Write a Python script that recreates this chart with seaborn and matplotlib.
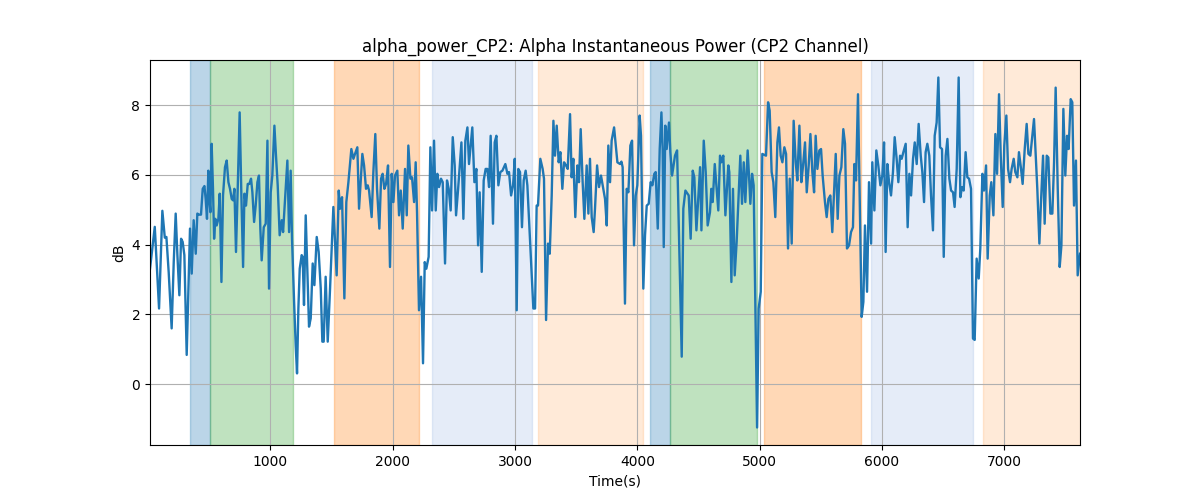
import matplotlib
matplotlib.use("Agg")
import matplotlib.pyplot as plt
import seaborn as sns
import pandas as pd

# ---- data ----
time_s = [
    16, 55, 90, 117, 137, 150, 169, 193, 210, 226, 240, 256, 270, 283, 297,
    316, 330, 343, 357, 373, 390, 403, 417, 433, 447, 461, 471, 482, 493, 501, 510, 520, 531, 540, 550,
    561, 575, 586, 600, 613, 629, 643, 657, 670, 684, 695, 706, 719, 733, 749, 763, 777, 788, 801, 815,
    828, 842, 853, 867, 880, 894, 907, 918, 929, 946, 962, 976, 989, 1003, 1016, 1033, 1046, 1060, 1076, 1093,
    1104, 1120, 1139, 1153, 1166, 1177, 1194, 1207, 1218, 1229, 1240, 1256, 1264,
    1275, 1289, 1316, 1330, 1346, 1360, 1379, 1395, 1412, 1425, 1436, 1452, 1469, 1488, 1515, 1542, 1559, 1570,
    1586, 1605, 1621, 1638, 1662, 1679, 1692, 1711, 1725, 1752, 1766, 1782, 1796, 1807, 1828, 1842, 1858, 1872,
    1891, 1905, 1918, 1932, 1946, 1962, 1978, 1992, 2006, 2019, 2038, 2052, 2066, 2082, 2101, 2115, 2128, 2145,
    2158, 2175, 2188, 2199, 2215, 2232, 2248, 2262, 2275, 2294, 2308, 2322, 2338, 2352, 2365, 2379, 2395, 2409,
    2428, 2444, 2458, 2474, 2491, 2507, 2518, 2534,
    2562, 2578, 2594, 2611, 2624, 2651, 2668, 2684, 2698, 2711, 2728, 2744, 2760, 2774, 2788, 2801, 2820, 2834,
    2848, 2864, 2880, 2897, 2921, 2938, 2951, 2968, 2984, 2998, 3014, 3027, 3041, 3057, 3071, 3087, 3101, 3150,
    3164, 3177, 3188, 3207, 3226, 3237, 3254, 3270, 3284, 3300, 3314, 3327, 3341, 3357, 3371, 3387, 3401, 3417,
    3431, 3450, 3463, 3477, 3493, 3510, 3523, 3537, 3553, 3567, 3586, 3600, 3613, 3627, 3643, 3654, 3671, 3687,
    3703, 3722, 3736, 3750, 3763, 3777, 3790, 3810,
    3837, 3859, 3870, 3880, 3899, 3913, 3927, 3943, 3957, 3973, 3987, 4000, 4019, 4030, 4049, 4063, 4077, 4093,
    4109, 4123, 4139, 4150, 4167, 4183, 4197, 4207, 4216, 4229, 4240, 4259, 4270, 4284, 4308, 4325, 4363, 4376,
    4393, 4420, 4436, 4453, 4466, 4483, 4513, 4524, 4543, 4559, 4575, 4594, 4605, 4616, 4633, 4662, 4676, 4687,
    4703, 4720, 4744, 4752, 4769, 4782, 4796, 4812, 4842, 4856, 4870, 4883, 4902, 4913, 4924, 4938, 4951, 4979,
    4992, 5009, 5022, 5052, 5069,
    5082, 5098, 5112, 5128, 5145, 5158, 5172, 5186, 5202, 5216, 5232, 5246, 5262, 5278, 5295, 5308, 5325, 5341,
    5355, 5371, 5385, 5401, 5415, 5431, 5445, 5458, 5472, 5488, 5502, 5515, 5534, 5548, 5562, 5578, 5594, 5622,
    5638, 5652, 5668, 5684, 5698, 5714, 5731, 5747, 5763, 5774, 5788, 5804, 5834, 5848, 5861, 5878, 5894, 5911,
    5921, 5938, 5954, 5970, 5987, 6003, 6017, 6030, 6044, 6058, 6074, 6090, 6104, 6120, 6134, 6148, 6161, 6175,
    6194, 6210, 6224, 6238, 6254, 6268, 6284, 6300, 6317, 6330, 6344,
    6357, 6371, 6387, 6401, 6417, 6431, 6447, 6461, 6475, 6491, 6505, 6521, 6535, 6551, 6565, 6581, 6594, 6611,
    6627, 6641, 6654, 6668, 6684, 6698, 6712, 6728, 6744, 6758, 6774, 6791, 6804, 6821, 6834, 6851, 6864, 6881,
    6894, 6911, 6927, 6941, 6957, 6971, 6987, 7000, 7017, 7031, 7047, 7060, 7077, 7090, 7107, 7120, 7137, 7150,
    7167, 7183, 7197, 7213, 7227, 7243, 7257, 7270, 7287, 7300, 7317, 7330, 7347, 7360, 7377, 7393, 7407, 7420,
    7437, 7453, 7467, 7483, 7499, 7513, 7526, 7543, 7556, 7570, 7586, 7600, 7619,
]

alpha_db = [
    3.31, 4.51, 2.17, 4.97, 4.20, 4.22, 3.20, 1.60, 3.50, 4.89, 3.70, 2.55, 4.17, 4.08, 3.70,
    0.84, 2.74, 4.46, 3.17, 4.70, 3.74, 4.89, 4.86, 4.86, 5.60, 5.68, 5.31, 4.74, 6.12, 5.31, 4.93, 6.89, 5.60, 4.17, 4.74,
    4.55, 4.74, 5.46, 2.93, 5.41, 6.22, 6.41, 5.79, 5.60, 5.31, 5.27, 5.60, 3.79, 5.60, 7.79, 5.41, 3.36, 5.46, 5.12, 5.74,
    5.74, 5.89, 5.50, 4.65, 5.12, 5.79, 5.98, 4.46, 3.55, 4.50, 4.60, 6.98, 2.74, 5.50, 5.98, 7.41, 6.55, 5.70, 4.27, 4.70,
    4.36, 5.31, 6.41, 4.36, 6.12, 4.17, 2.36, 1.12, 0.31, 2.17, 3.31, 3.70, 3.65,
    2.27, 4.84, 1.65, 1.89, 3.46, 2.84, 4.22, 3.79, 2.74, 1.22, 1.22, 3.08, 1.22, 2.74, 5.08, 3.12, 5.55, 5.03,
    5.36, 2.46, 5.22, 5.79, 6.74, 6.46, 6.60, 6.79, 5.03, 6.60, 6.27, 5.60, 5.70, 5.55, 4.79, 6.08, 7.17, 5.60,
    4.46, 5.89, 6.03, 5.60, 5.74, 6.27, 3.36, 6.03, 5.22, 5.98, 6.12, 4.84, 5.55, 4.46, 6.17, 4.84, 6.84, 5.89,
    5.93, 5.22, 6.36, 4.93, 2.12, 3.08, 0.60, 3.50, 3.31, 3.65, 6.79, 4.98, 6.98, 4.98, 6.03, 5.65, 5.89, 5.79,
    3.46, 5.84, 5.60, 4.98, 7.08, 6.27, 4.84, 5.55,
    6.93, 4.74, 6.98, 7.36, 6.31, 7.36, 5.79, 6.17, 3.98, 5.50, 3.22, 5.84, 6.17, 6.17, 5.65, 7.12, 4.60, 6.93,
    7.12, 5.70, 6.08, 6.12, 6.31, 6.03, 6.08, 5.41, 5.70, 6.46, 2.12, 6.17, 6.08, 4.50, 5.84, 6.12, 5.70, 2.17,
    2.17, 5.12, 5.12, 6.46, 6.17, 5.89, 1.84, 4.03, 3.74, 5.41, 7.55, 6.55, 7.41, 6.36, 6.65, 5.60, 6.36, 6.27,
    6.17, 7.74, 5.93, 6.46, 4.79, 6.27, 5.79, 7.31, 5.79, 4.74, 6.27, 4.89, 6.46, 4.79, 4.36, 5.03, 6.27, 5.65,
    5.98, 5.60, 5.31, 4.55, 6.84, 5.79, 6.98, 7.36,
    6.36, 6.31, 6.38, 6.22, 2.31, 5.60, 5.50, 6.84, 6.98, 3.98, 5.41, 5.70, 7.70, 7.12, 2.74, 4.27, 5.12, 5.17,
    5.79, 5.70, 6.03, 6.08, 4.46, 6.74, 7.79, 6.74, 3.93, 7.41, 6.74, 7.50, 6.65, 5.98, 6.55, 6.70, 0.79, 5.03,
    5.55, 5.41, 4.17, 6.12, 5.93, 4.41, 6.22, 4.41, 6.98, 6.08, 4.55, 4.93, 5.60, 5.22, 6.31, 4.98, 6.55, 6.36,
    6.55, 4.84, 6.27, 6.08, 2.93, 5.60, 3.12, 4.08, 6.55, 5.17, 6.36, 5.22, 6.70, 5.98, 5.17, 6.03, 5.70, -1.24,
    2.17, 2.65, 6.60, 6.55, 8.08,
    7.84, 6.08, 5.79, 4.79, 6.93, 7.36, 6.55, 6.36, 6.79, 6.60, 3.89, 5.89, 4.03, 7.55, 6.36, 5.84, 7.41, 5.79,
    6.27, 6.93, 5.50, 6.27, 7.17, 6.08, 5.50, 7.12, 6.17, 6.70, 6.74, 5.98, 5.22, 4.79, 5.31, 5.41, 4.36, 6.60,
    4.74, 5.98, 6.22, 7.31, 6.89, 3.89, 3.98, 4.36, 4.50, 6.31, 5.84, 8.31, 1.93, 2.36, 4.55, 2.65, 5.79, 4.03,
    6.36, 4.98, 6.70, 6.27, 5.70, 5.98, 6.93, 3.79, 6.31, 5.79, 5.41, 6.08, 7.08, 6.46, 5.79, 6.55, 6.46, 6.65,
    6.89, 4.50, 6.03, 5.41, 6.46, 6.93, 6.31, 7.46, 6.55, 6.08, 5.22,
    6.65, 6.89, 6.55, 5.41, 4.41, 7.12, 7.50, 8.79, 6.79, 6.74, 3.65, 6.55, 7.03, 5.89, 5.55, 5.50, 5.08, 6.17,
    8.79, 5.36, 5.65, 5.55, 6.65, 5.93, 5.89, 5.60, 1.31, 1.27, 3.60, 3.03, 3.89, 6.03, 5.55, 6.27, 3.60, 5.41,
    5.79, 4.84, 7.17, 6.03, 8.31, 6.55, 5.08, 6.84, 7.70, 6.17, 5.79, 6.17, 6.46, 6.08, 5.93, 6.65, 6.17, 5.74,
    6.74, 7.46, 6.60, 6.55, 7.03, 7.60, 6.55, 5.60, 4.03, 5.22, 6.55, 4.60, 6.55, 6.50, 4.89, 4.89, 6.36, 8.50,
    5.60, 3.36, 3.98, 7.89, 5.98, 7.12, 6.74, 8.17, 8.08, 5.12, 6.41, 3.12, 3.74,
]

# event intervals (seconds) and their category
span_start = [343, 507, 1520, 2322, 3188, 4104, 4270, 5036, 5911, 6826]
span_end = [507, 1188, 2213, 3139, 4044, 4270, 4978, 5826, 6744, 7700]
span_kind = ["k1", "k2", "k3", "k4", "k5", "k1", "k2", "k3", "k4", "k5"]

# ---- styles ----
kind_style = {
    "k1": ("#1f77b4", 0.30),
    "k2": ("#2ca02c", 0.30),
    "k3": ("#ff7f0e", 0.30),
    "k4": ("#4a7fd0", 0.14),
    "k5": ("#ff7f0e", 0.16),
}

df = pd.DataFrame({"Time(s)": time_s, "dB": alpha_db})

fig, ax = plt.subplots(figsize=(12, 5), dpi=100)

for s, e, k in zip(span_start, span_end, span_kind):
    c, a = kind_style[k]
    ax.axvspan(s, e, color=c, alpha=a)

sns.lineplot(data=df, x="Time(s)", y="dB", ax=ax, color="#1f77b4", linewidth=1.7,
             estimator=None, sort=True)

ax.set_xlim(min(time_s), max(time_s))
ax.grid(True)
ax.set_title("alpha_power_CP2: Alpha Instantaneous Power (CP2 Channel)")
ax.set_xlabel("Time(s)")
ax.set_ylabel("dB")

fig.savefig("out.png", dpi=100)
